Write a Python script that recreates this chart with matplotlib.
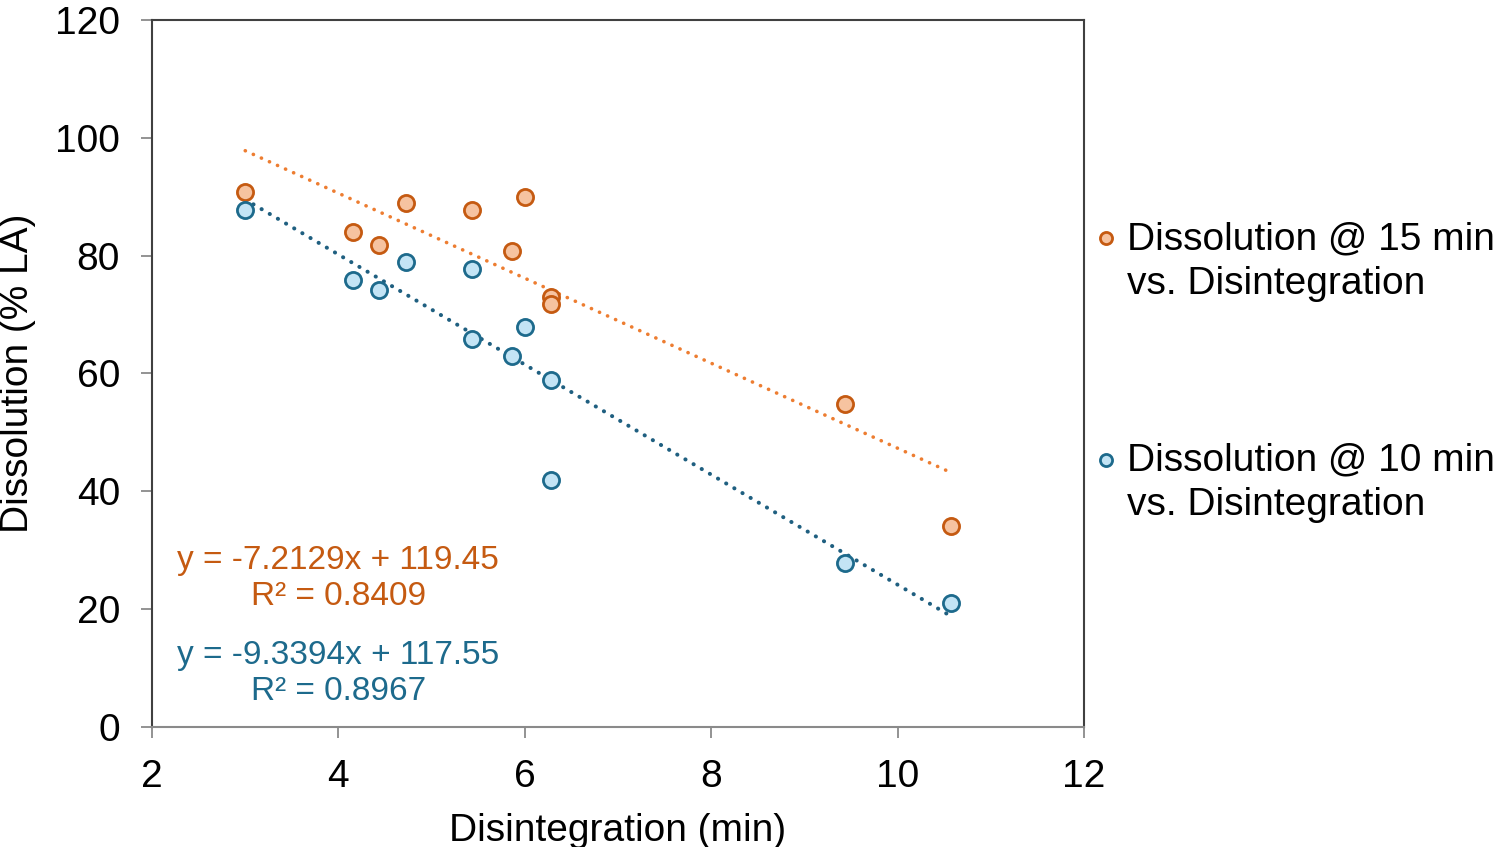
import matplotlib
matplotlib.use("Agg")
import matplotlib.pyplot as plt
import numpy as np

plt.rcParams['font.family'] = ['Liberation Sans', 'DejaVu Sans']

# disintegration time (min) and dissolution (% LA)
x_15 = [3.0, 4.16, 4.44, 4.73, 5.43, 5.86, 6.0, 6.28, 6.28, 9.44, 10.57]
y_15 = [90.8, 84.0, 81.8, 89.0, 87.8, 80.8, 90.0, 73.0, 71.8, 54.8, 34.1]
x_10 = [3.0, 4.16, 4.44, 4.73, 5.43, 5.43, 5.86, 6.0, 6.28, 6.28, 9.44, 10.57]
y_10 = [87.8, 75.9, 74.2, 78.9, 77.8, 65.9, 63.0, 67.9, 58.9, 41.9, 27.8, 21.1]

# trendline coefficients (slope, intercept) and R²
fit_15 = [-7.2129, 119.45]
fit_10 = [-9.3394, 117.55]
r2_15 = 0.8409
r2_10 = 0.8967

orange_edge = '#C55A11'
orange_fill = '#F6C3A0'
orange_line = '#ED7D31'
blue_edge = '#1D6A8C'
blue_fill = '#C3E4F5'
blue_line = '#1F5F80'

fig = plt.figure(figsize=(15.04, 8.47), dpi=100)
ax = fig.add_axes([0.1011, 0.1417, 0.6196, 0.8347])

# trendlines (dotted, round dots)
xs15 = np.array([min(x_15), max(x_15)])
xs10 = np.array([min(x_10), max(x_10)])
ax.plot(xs15, np.polyval(fit_15, xs15), color=orange_line, lw=2.6,
        linestyle=(0, (0.05, 2.4)), dash_capstyle='round', zorder=2)
ax.plot(xs10, np.polyval(fit_10, xs10), color=blue_line, lw=2.9,
        linestyle=(0, (0.05, 2.3)), dash_capstyle='round', zorder=2)

# scatter points
ax.scatter(x_15, y_15, s=135, facecolor=orange_fill, edgecolor=orange_edge,
           linewidth=2.0, zorder=3,
           label='Dissolution @ 15 min\nvs. Disintegration')
ax.scatter(x_10, y_10, s=135, facecolor=blue_fill, edgecolor=blue_edge,
           linewidth=2.0, zorder=3,
           label='Dissolution @ 10 min\nvs. Disintegration')

# equations
ax.text(4.0, 25.2, f'y = {fit_15[0]}x + {fit_15[1]}\nR² = {r2_15}',
        color=orange_edge, fontsize=24, ha='center', va='center',
        multialignment='center', linespacing=1.2)
ax.text(4.0, 9.1, f'y = {fit_10[0]}x + {fit_10[1]}\nR² = {r2_10}',
        color=blue_edge, fontsize=24, ha='center', va='center',
        multialignment='center', linespacing=1.2)

ax.set_xlim(2, 12)
ax.set_ylim(0, 120)
ax.set_xticks(np.arange(2, 13, 2))
ax.set_yticks(np.arange(0, 121, 20))
ax.tick_params(labelsize=28, length=8, width=1.3, color='#8a8a8a',
               labelcolor='black', pad=15)
for sp in ax.spines.values():
    sp.set_color('#404040')
    sp.set_linewidth(1.5)
ax.spines['bottom'].set_color('#8a8a8a')

ax.set_xlabel('Disintegration (min)', fontsize=28, labelpad=13)
ax.set_ylabel('Dissolution (% LA)', fontsize=28, labelpad=14)

leg = ax.legend(loc='upper left', bbox_to_anchor=(1.009, 0.715),
                frameon=False, fontsize=28, markerscale=0.75,
                handletextpad=0.2, labelspacing=3.62, borderaxespad=0,
                handlelength=0.7, scatterpoints=1, borderpad=0)
for t in leg.get_texts():
    t.set_linespacing(1.3)
# put the marker beside the first line of each label
for col in leg._legend_handle_box.get_children():
    for row in col.get_children():
        row.align = 'top'

fig.savefig('out.png', dpi=100)
